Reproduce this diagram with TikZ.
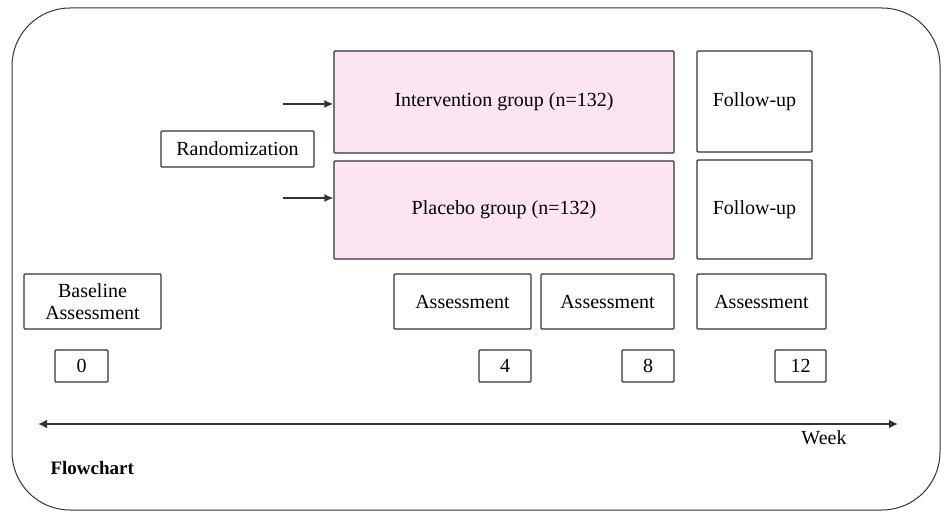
\documentclass[tikz,border=0pt]{standalone}
\usepackage{fontspec}
\setmainfont{Liberation Serif}
\usetikzlibrary{arrows.meta}
\definecolor{pinkfill}{HTML}{FCE4F2}
\definecolor{edge}{HTML}{333333}
\begin{document}
\begin{tikzpicture}[x=1pt,y=-1pt,
  box/.style={draw=edge,line width=1.2pt,rounded corners=1pt,inner sep=0pt,align=center,font=\fontsize{20}{22}\selectfont},
  grp/.style={box,fill=pinkfill}]
\useasboundingbox (0,0) rectangle (950,513);
\draw[edge,line width=1pt,rounded corners=58pt] (12,8) rectangle (940,510);
% group boxes
\node[grp,minimum width=340pt,minimum height=102pt] (int) at (504,102) {Intervention group (n=132)};
\node[grp,minimum width=340pt,minimum height=98pt] (pla) at (504,210) {Placebo group (n=132)};
\node[box,minimum width=115pt,minimum height=101pt] (fu1) at (754.5,101.5) {Follow-up};
\node[box,minimum width=115pt,minimum height=99pt] (fu2) at (754.5,209.5) {Follow-up};
\node[box,minimum width=153pt,minimum height=36pt] (rand) at (237.5,149) {Randomization};
\coordinate (a1) at (283,104);
\coordinate (a2) at (283,198);
\draw[edge,line width=1.4pt,-{Latex[length=9pt,width=8pt]}] (a1) -- (int.west |- a1);
\draw[edge,line width=1.4pt,-{Latex[length=9pt,width=8pt]}] (a2) -- (pla.west |- a2);
% assessments
\node[box,minimum width=137pt,minimum height=55pt] (base) at (92.5,301.5) {Baseline\\Assessment};
\node[box,minimum width=137pt,minimum height=55pt] (as1) at (462.5,301.5) {Assessment};
\node[box,minimum width=133pt,minimum height=55pt] (as2) at (607.5,301.5) {Assessment};
\node[box,minimum width=129pt,minimum height=55pt] (as3) at (761.5,301.5) {Assessment};
% weeks
\node[box,minimum width=53pt,minimum height=32pt] (w0) at (81.5,366) {0};
\node[box,minimum width=52pt,minimum height=32pt] (w4) at (505,366) {4};
\node[box,minimum width=52pt,minimum height=32pt] (w8) at (648,366) {8};
\node[box,minimum width=51pt,minimum height=32pt] (w12) at (800.5,366) {12};
% axis
\coordinate (ax1) at (38,424);
\coordinate (ax2) at (898,424);
\draw[edge,line width=2pt,{Latex[length=9pt,width=9pt]}-{Latex[length=9pt,width=9pt]}] (ax1) -- (ax2);
\node[font=\fontsize{20}{22}\selectfont,anchor=center] (week) at (824,438) {Week};
\node[font=\fontsize{19}{22}\selectfont\bfseries,anchor=west] (flow) at (47,468) {Flowchart};
\end{tikzpicture}
\end{document}
